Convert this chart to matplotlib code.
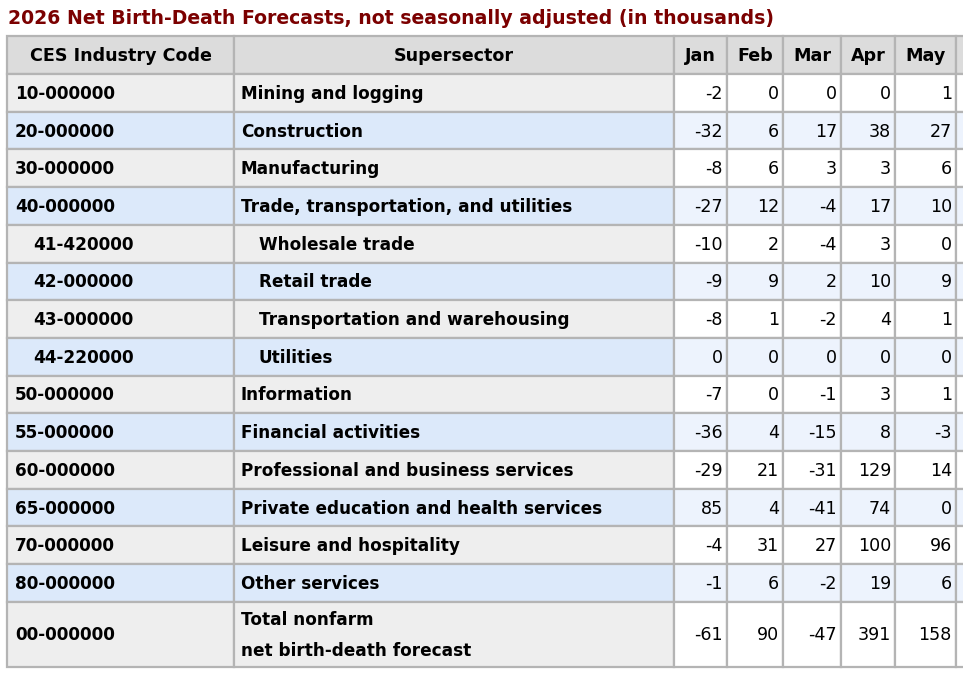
import matplotlib.pyplot as plt
from matplotlib.patches import Rectangle

title = "2026 Net Birth-Death Forecasts, not seasonally adjusted (in thousands)"
headers = ["CES Industry Code", "Supersector", "Jan", "Feb", "Mar", "Apr", "May"]

codes = [
    "10-000000", "20-000000", "30-000000", "40-000000", "41-420000",
    "42-000000", "43-000000", "44-220000", "50-000000", "55-000000",
    "60-000000", "65-000000", "70-000000", "80-000000", "00-000000",
]
sectors = [
    "Mining and logging", "Construction", "Manufacturing",
    "Trade, transportation, and utilities", "Wholesale trade", "Retail trade",
    "Transportation and warehousing", "Utilities", "Information",
    "Financial activities", "Professional and business services",
    "Private education and health services", "Leisure and hospitality",
    "Other services", "Total nonfarm\nnet birth-death forecast",
]
indented = [False, False, False, False, True, True, True, True,
            False, False, False, False, False, False, False]

jan = [-2, -32, -8, -27, -10, -9, -8, 0, -7, -36, -29, 85, -4, -1, -61]
feb = [0, 6, 6, 12, 2, 9, 1, 0, 0, 4, 21, 4, 31, 6, 90]
mar = [0, 17, 3, -4, -4, 2, -2, 0, -1, -15, -31, -41, 27, -2, -47]
apr = [0, 38, 3, 17, 3, 10, 4, 0, 3, 8, 129, 74, 100, 19, 391]
may = [1, 27, 6, 10, 0, 9, 1, 0, 1, -3, 14, 0, 96, 6, 158]
months = [jan, feb, mar, apr, may]

# layout (pixels)
W, H = 963, 680
col_edges = [7, 234, 674, 727, 783, 841, 895, 956, 1010]
top = 36
header_h = 38
row_h = 37.7
last_row_h = 65

border = "#b4b4b4"
header_bg = "#dcdcdc"
label_bg = ["#eeeeee", "#dce9fa"]
data_bg = ["#ffffff", "#edf3fd"]

fig = plt.figure(figsize=(W / 100, H / 100), dpi=100)
ax = fig.add_axes([0, 0, 1, 1])
ax.set_xlim(0, W)
ax.set_ylim(H, 0)
ax.axis("off")

fs = 12.2


def cell(x0, x1, y0, y1, color):
    ax.add_patch(Rectangle((x0, y0), x1 - x0, y1 - y0, facecolor=color,
                           edgecolor=border, linewidth=1.6))


ax.text(8, 18, title, fontsize=13.6, fontweight="bold", color="#7b0000",
        ha="left", va="center", family="DejaVu Sans")

# header
for c in range(len(col_edges) - 1):
    x0, x1 = col_edges[c], col_edges[c + 1]
    cell(x0, x1, top, top + header_h, header_bg)
    if c < len(headers):
        ax.text((x0 + x1) / 2, top + header_h / 2 + 1, headers[c], fontsize=fs + 0.4,
                fontweight="bold", ha="center", va="center")

y = top + header_h
for r in range(len(codes)):
    h = last_row_h if r == len(codes) - 1 else row_h
    k = r % 2
    cy = y + h / 2 + 1
    cell(col_edges[0], col_edges[1], y, y + h, label_bg[k])
    cell(col_edges[1], col_edges[2], y, y + h, label_bg[k])
    ind = 18 if indented[r] else 0
    ax.text(col_edges[0] + 8 + ind, cy, codes[r], fontsize=fs,
            fontweight="bold", ha="left", va="center")
    ax.text(col_edges[1] + 7 + ind, cy, sectors[r], fontsize=fs,
            fontweight="bold", ha="left", va="center", linespacing=1.95)
    for m in range(len(months)):
        x0, x1 = col_edges[2 + m], col_edges[3 + m]
        cell(x0, x1, y, y + h, data_bg[k])
        ax.text(x1 - 4, cy, str(months[m][r]), fontsize=fs + 0.4,
                ha="right", va="center")
    cell(col_edges[-2], col_edges[-1], y, y + h, data_bg[k])
    y += h

fig.savefig("out.png", dpi=100)
